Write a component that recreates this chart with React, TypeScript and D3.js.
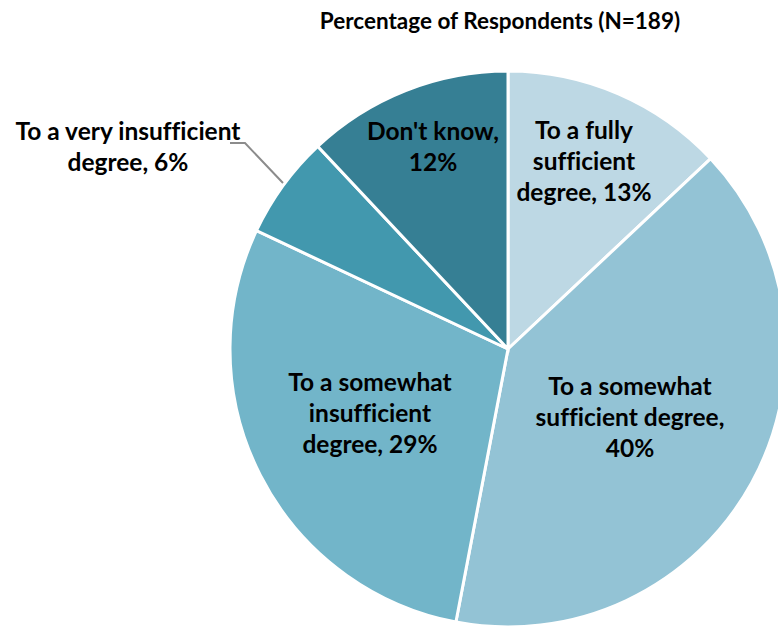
import React from "react";
import * as d3 from "d3";

const categories = [
  "To a fully sufficient degree",
  "To a somewhat sufficient degree",
  "To a somewhat insufficient degree",
  "To a very insufficient degree",
  "Don't know",
];
const values = [13, 40, 29, 6, 12];
const colors = ["#BDD8E4", "#93C3D5", "#72B5C9", "#4298AE", "#367F94"];
const labelLines = [
  ["To a fully", "sufficient", "degree, 13%"],
  ["To a somewhat", "sufficient degree,", "40%"],
  ["To a somewhat", "insufficient", "degree, 29%"],
  ["To a very insufficient", "degree, 6%"],
  ["Don't know,", "12%"],
];
const title = "Percentage of Respondents (N=189)";

const W = 778;
const H = 627;
const cx = 508;
const cy = 349;
const R = 278;

// label anchor positions (center x, first-line center y)
const labelPos: [number, number][] = [
  [584, 129],
  [630, 385],
  [370, 381],
  [128, 130],
  [433, 130],
];

export default function App() {
  const pie = d3.pie<number>().sort(null).value((d) => d)(values);
  const arc = d3.arc<d3.PieArcDatum<number>>().innerRadius(0).outerRadius(R);
  const font = "Lato, sans-serif";
  const lh = 31.3;
  return (
    <svg
      width={W}
      height={H}
      style={{
        position: "absolute",
        left: 0,
        top: 0,
        background: "#fff",
        fontVariantLigatures: "none",
      }}
    >
      <text
        x={500}
        y={20}
        textAnchor="middle"
        dominantBaseline="central"
        fontFamily={font}
        fontWeight={700}
        fontSize={22.5}
        fill="#000"
      >
        {title}
      </text>
      <g transform={`translate(${cx},${cy})`}>
        {pie.map((p, i) => (
          <path
            key={categories[i]}
            d={arc(p) || ""}
            fill={colors[i]}
            stroke="#fff"
            strokeWidth={3}
          />
        ))}
      </g>
      <polyline
        points="230,143 245,143 283,183"
        fill="none"
        stroke="#8c8c8c"
        strokeWidth={2}
      />
      {labelLines.map((lines, i) => (
        <text
          key={i}
          textAnchor="middle"
          fontFamily={font}
          fontWeight={700}
          fontSize={24.5}
          fill="#000"
        >
          {lines.map((ln, j) => (
            <tspan
              key={j}
              x={labelPos[i][0]}
              y={labelPos[i][1] + j * lh}
              dominantBaseline="central"
            >
              {ln}
            </tspan>
          ))}
        </text>
      ))}
    </svg>
  );
}
